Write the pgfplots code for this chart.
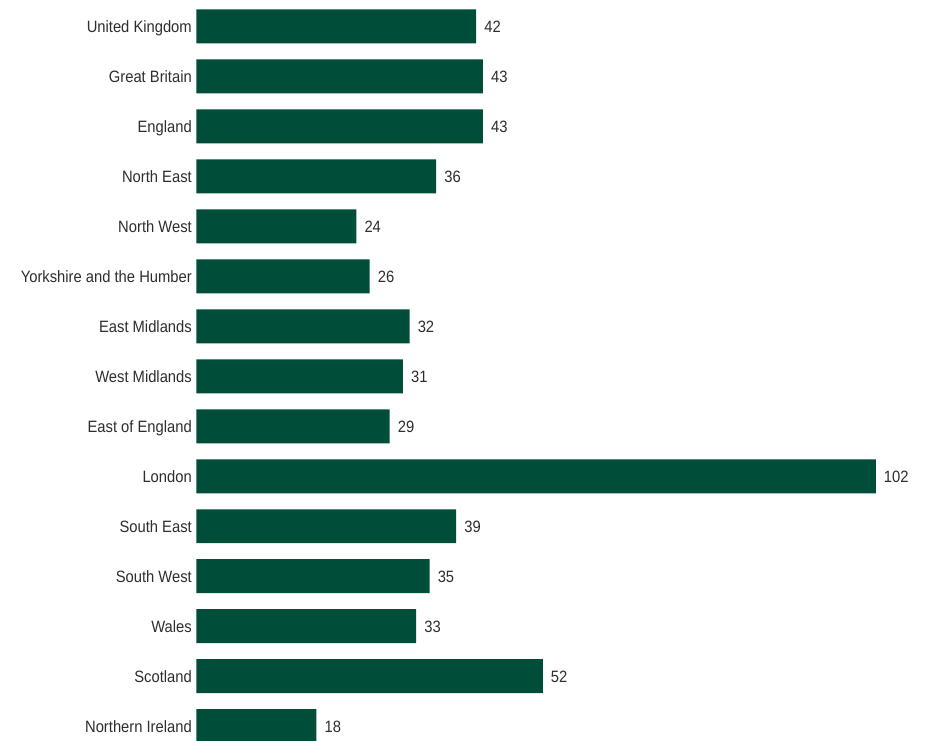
\documentclass[border=0pt]{standalone}
\usepackage{fontspec}
\setmainfont{Liberation Sans}[FakeStretch=0.9]
\usepackage{pgfplots}
\pgfplotsset{compat=1.18}
\definecolor{bargreen}{RGB}{0,77,58}
\definecolor{txt}{RGB}{45,45,45}
\begin{document}
\begin{tikzpicture}
\path (0,0) rectangle (928pt,741pt);
\begin{axis}[
  at={(196.5pt,0pt)}, anchor=south west,
  scale only axis, width=731.5pt, height=741pt,
  xbar, bar width=34pt,
  xmin=0, xmax=109.83,
  ymin=-0.526, ymax=14.294,
  y dir=reverse,
  axis line style={draw=none},
  major tick length=0pt,
  xtick=\empty,
  ytick={0,...,14},
  yticklabels={United Kingdom,Great Britain,England,North East,North West,Yorkshire and the Humber,East Midlands,West Midlands,East of England,London,South East,South West,Wales,Scotland,Northern Ireland},
  yticklabel style={font=\fontsize{16.4}{18}\selectfont, text=txt, inner sep=0pt, anchor=base east, xshift=-4.5pt, yshift=-5.9pt},
  nodes near coords,
  nodes near coords style={font=\fontsize{16.4}{18}\selectfont, text=txt, anchor=base west, inner sep=0pt, xshift=8pt, yshift=-5.9pt},
  /pgf/number format/assume math mode=true,
]
\addplot[fill=bargreen, draw=none] coordinates {
(42,0) (43,1) (43,2) (36,3) (24,4) (26,5) (32,6) (31,7) (29,8) (102,9) (39,10) (35,11) (33,12) (52,13) (18,14)
};
\end{axis}
\end{tikzpicture}
\end{document}
